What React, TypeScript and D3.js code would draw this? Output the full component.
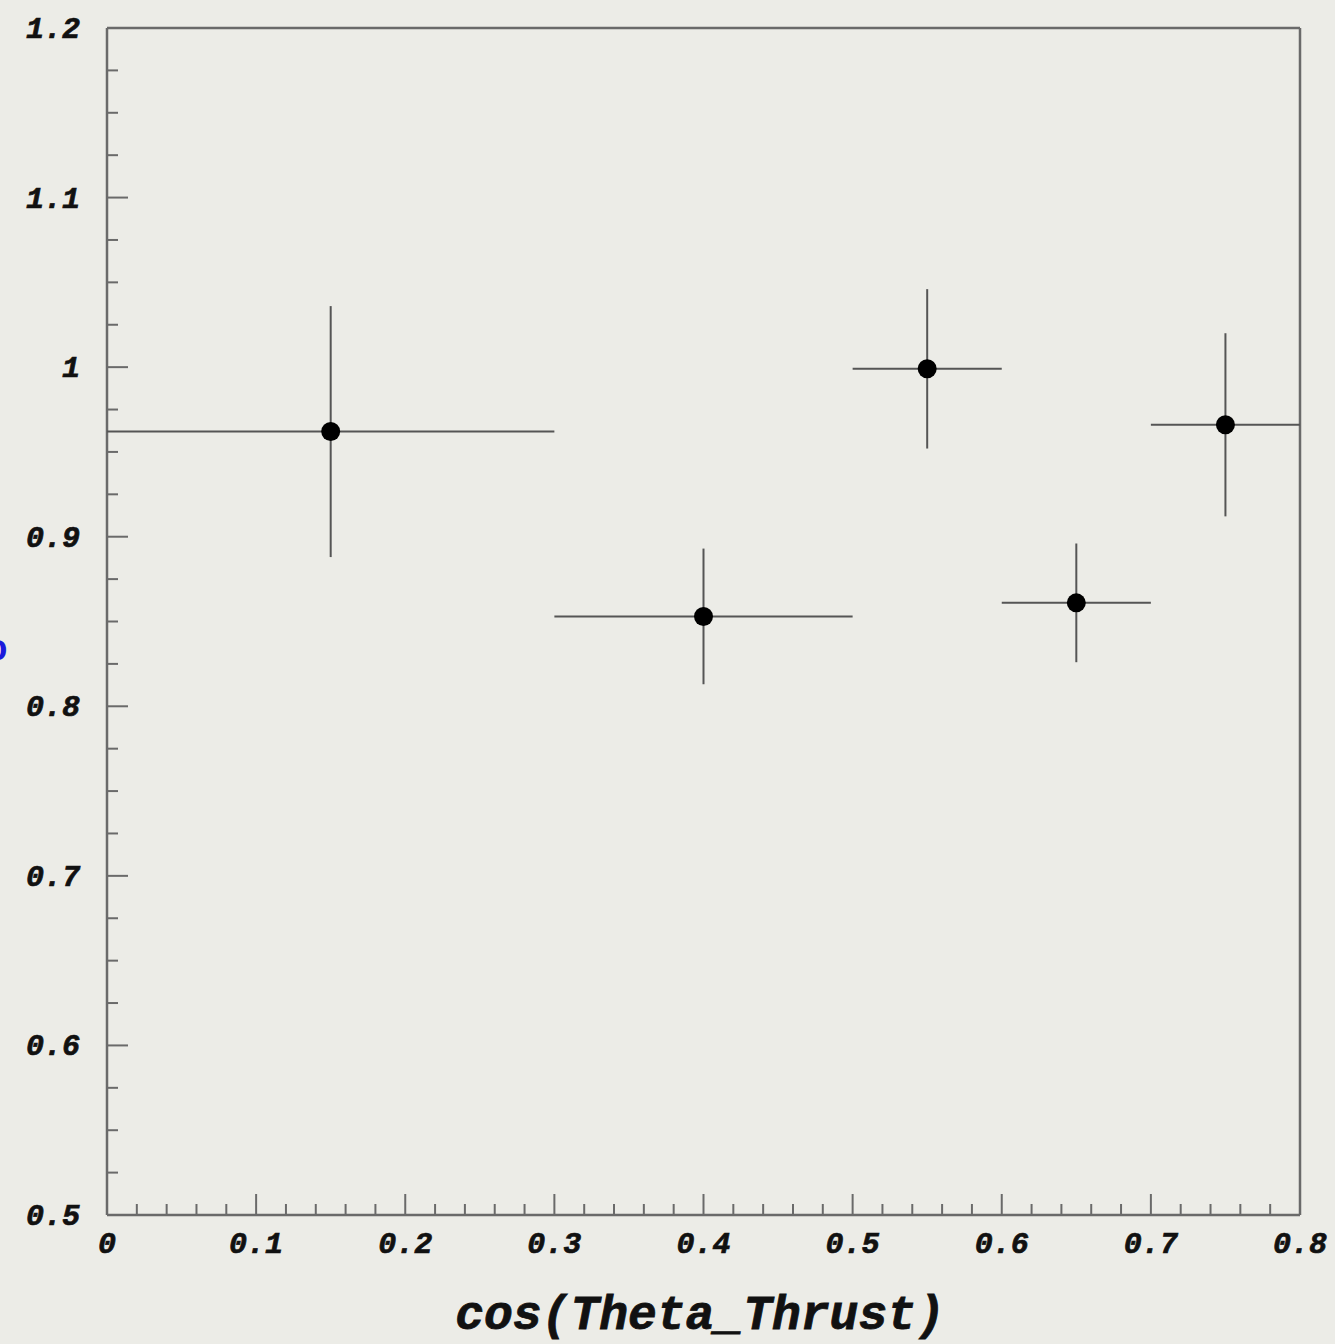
import React from "react";
import * as d3 from "d3";

const binLow = [0.0, 0.3, 0.5, 0.6, 0.7];
const binHigh = [0.3, 0.5, 0.6, 0.7, 0.8];
const binCenter = [0.15, 0.4, 0.55, 0.65, 0.75];
const values = [0.962, 0.853, 0.999, 0.861, 0.966];
const errors = [0.074, 0.040, 0.047, 0.035, 0.054];
const xTickLabels = ["0", "0.1", "0.2", "0.3", "0.4", "0.5", "0.6", "0.7", "0.8"];
const yTickLabels = ["0.5", "0.6", "0.7", "0.8", "0.9", "1", "1.1", "1.2"];
const xTitle = "cos(Theta_Thrust)";

const W = 1335;
const H = 1344;
const L = 107, R = 1300, T = 28, B = 1215;
const font = "'Liberation Mono', 'DejaVu Sans Mono', monospace";

export default function App() {
  const x = d3.scaleLinear().domain([0, 0.8]).range([L, R]);
  const y = d3.scaleLinear().domain([0.5, 1.2]).range([B, T]);
  const xMinor = d3.range(0, 0.8001, 0.02);
  const yMinor = d3.range(0.5, 1.2001, 0.025);
  const axisColor = "#6a6a6a";
  const barColor = "#555";
  return (
    <svg width={W} height={H} style={{ position: "absolute", left: 0, top: 0, background: "#ecece7" }}>
      <rect x={0} y={0} width={W} height={H} fill="#ecece7" />
      {/* frame */}
      <line x1={L} y1={T} x2={R} y2={T} stroke={axisColor} strokeWidth={2.5} />
      <line x1={R} y1={T} x2={R} y2={B} stroke={axisColor} strokeWidth={2.5} />
      <line x1={L} y1={T} x2={L} y2={B} stroke={axisColor} strokeWidth={2.5} />
      <line x1={L} y1={B} x2={R} y2={B} stroke={axisColor} strokeWidth={2.5} />
      {/* x ticks */}
      {xMinor.map((v, i) => {
        const major = i % 5 === 0;
        return (
          <line key={"xt" + i} x1={x(v)} x2={x(v)} y1={B} y2={B - (major ? 21 : 11)} stroke={axisColor} strokeWidth={2} />
        );
      })}
      {/* y ticks */}
      {yMinor.map((v, i) => {
        const major = i % 4 === 0;
        return (
          <line key={"yt" + i} x1={L} x2={L + (major ? 21 : 11)} y1={y(v)} y2={y(v)} stroke={axisColor} strokeWidth={2} />
        );
      })}
      {/* x labels */}
      {xTickLabels.map((t) => (
        <text key={"xl" + t} x={x(+t)} y={B + 38} textAnchor="middle" fontFamily={font} fontWeight="bold" fontStyle="italic" fontSize={30} fill="#111" stroke="#111" strokeWidth={0.7}>
          {t}
        </text>
      ))}
      {/* y labels */}
      {yTickLabels.map((t) => (
        <text key={"yl" + t} x={80} y={y(+t) + 10} textAnchor="end" fontFamily={font} fontWeight="bold" fontStyle="italic" fontSize={30} fill="#111" stroke="#111" strokeWidth={0.7}>
          {t}
        </text>
      ))}
      {/* x title */}
      <text x={700} y={1329} textAnchor="middle" fontFamily={font} fontWeight="bold" fontStyle="italic" fontSize={48} fill="#111" stroke="#111" strokeWidth={0.8}>
        {xTitle}
      </text>
      {/* partial y title glyph */}
      <text x={-14} y={660} fontFamily={font} fontWeight="bold" fontSize={36} fill="#1a1adc">o</text>
      {/* data */}
      {values.map((v, i) => (
        <g key={"p" + i}>
          <line x1={x(binLow[i])} x2={x(binHigh[i])} y1={y(v)} y2={y(v)} stroke={barColor} strokeWidth={2} />
          <line x1={x(binCenter[i])} x2={x(binCenter[i])} y1={y(v - errors[i])} y2={y(v + errors[i])} stroke={barColor} strokeWidth={2} />
          <circle cx={x(binCenter[i])} cy={y(v)} r={9.5} fill="#000" />
        </g>
      ))}
    </svg>
  );
}
